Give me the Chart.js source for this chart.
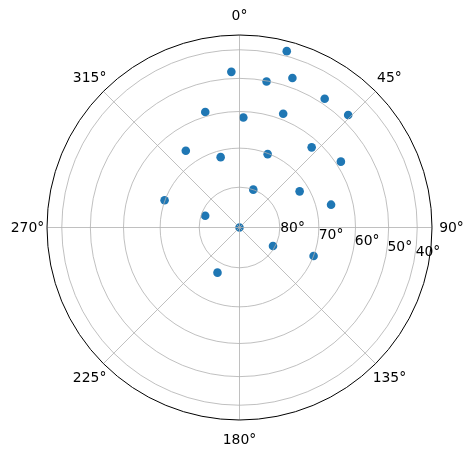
<!DOCTYPE html>
<html>
<head>
<meta charset="utf-8">
<script src="https://cdn.jsdelivr.net/npm/chart.js@4/dist/chart.umd.min.js"></script>
<style>
html,body{margin:0;padding:0;background:#fff;}
canvas{display:block;}
</style>
</head>
<body>
<canvas id="c" width="473" height="457"></canvas>
<script>
// Satellite sky-plot style data: azimuth (deg, clockwise from north) and elevation (deg)
const azimuth   = [0, 20, 119, 206, 289, 345, 2, 21, 59, 111, 76, 42, 21, 325, 290, 343.5, 357, 10.5, 19.5, 15, 33.5, 44, 57];
const elevation = [90, 80, 80.5, 77.5, 81, 71.7, 61.7, 70.2, 72.4, 70, 66, 62.3, 58.3, 66.2, 69.9, 58.7, 47.8, 50.2, 46.9, 38.1, 48.3, 47.6, 58.6];
// Tick labels
const angleTicks = [0, 45, 90, 135, 180, 225, 270, 315];
const angleTickLabels = ["0°", "45°", "90°", "135°", "180°", "225°", "270°", "315°"];
const elevTicks = [80, 70, 60, 50, 40];
const elevTickLabels = ["80°", "70°", "60°", "50°", "40°"];
const rMax = 0.8297;          // radial limit (cos of elevation)
const rLabelAngle = 99.7;     // direction of radial tick labels

const rad = d => d * Math.PI / 180;
const points = azimuth.map((a, i) => {
  const r = Math.cos(rad(elevation[i]));
  return { x: r * Math.sin(rad(a)), y: r * Math.cos(rad(a)) };
});

const FONT = '13.9px "DejaVu Sans"';

const polarGrid = {
  id: 'polarGrid',
  afterDatasetsDraw(chart) {
    const ctx = chart.ctx, xs = chart.scales.x, ys = chart.scales.y;
    const cx = xs.getPixelForValue(0), cy = ys.getPixelForValue(0);
    const R = xs.getPixelForValue(rMax) - cx;
    ctx.save();
    // grid (drawn above the scatter, as in the reference)
    ctx.strokeStyle = '#b0b0b0';
    ctx.lineWidth = 0.8;
    elevTicks.forEach(e => {
      const r = xs.getPixelForValue(Math.cos(rad(e))) - cx;
      ctx.beginPath(); ctx.arc(cx, cy, r, 0, Math.PI * 2); ctx.stroke();
    });
    angleTicks.forEach(a => {
      ctx.beginPath();
      ctx.moveTo(cx, cy);
      ctx.lineTo(cx + R * Math.sin(rad(a)), cy - R * Math.cos(rad(a)));
      ctx.stroke();
    });
    // outer spine
    ctx.strokeStyle = '#000';
    ctx.lineWidth = 1;
    ctx.beginPath(); ctx.arc(cx, cy, R, 0, Math.PI * 2); ctx.stroke();
    // labels
    ctx.fillStyle = '#000';
    ctx.font = FONT;
    ctx.textAlign = 'center';
    ctx.textBaseline = 'middle';
    const RL = R + 19.5;
    angleTicks.forEach((a, i) => {
      ctx.fillText(angleTickLabels[i], cx + RL * Math.sin(rad(a)), cy - RL * Math.cos(rad(a)) + 1);
    });
    ctx.textAlign = 'left';
    elevTicks.forEach((e, i) => {
      const r = xs.getPixelForValue(Math.cos(rad(e))) - cx;
      const px = cx + r * Math.sin(rad(rLabelAngle));
      const py = cy - r * Math.cos(rad(rLabelAngle));
      ctx.fillText(elevTickLabels[i], px + 1, py - 5.5);
    });
    ctx.restore();
  }
};

new Chart(document.getElementById('c'), {
  type: 'scatter',
  data: {
    datasets: [{
      data: points,
      backgroundColor: '#1f77b4',
      borderColor: '#1f77b4',
      borderWidth: 0,
      pointRadius: 4.3,
      pointHoverRadius: 4.3
    }]
  },
  options: {
    responsive: false,
    animation: false,
    events: [],
    layout: { padding: { left: 47, top: 35, right: 41, bottom: 37 } },
    plugins: { legend: { display: false }, tooltip: { enabled: false } },
    scales: {
      x: { type: 'linear', min: -rMax, max: rMax, display: false },
      y: { type: 'linear', min: -rMax, max: rMax, display: false }
    }
  },
  plugins: [polarGrid]
});
</script>
</body>
</html>
